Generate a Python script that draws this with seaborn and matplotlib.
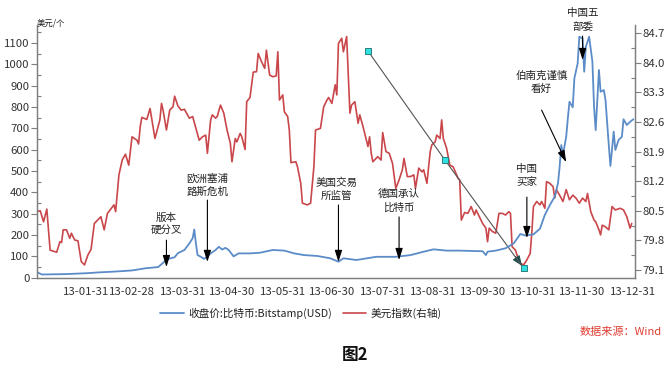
import matplotlib
matplotlib.use("Agg")
import matplotlib.pyplot as plt
import matplotlib.dates as mdates
from matplotlib.ticker import FixedLocator, MultipleLocator
import seaborn as sns
import pandas as pd
import numpy as np

# ---------------- data ----------------
btc_dates = ["01-01", "01-04", "01-19", "01-31", "02-08", "02-18", "02-28", "03-08", "03-16", "03-19",
             "03-21", "03-23", "03-26", "03-28", "04-01", "04-04", "04-06", "04-07", "04-08", "04-09",
             "04-11", "04-13", "04-15", "04-17", "04-20", "04-22", "04-24", "04-26", "04-28", "05-01",
             "05-04", "05-11", "05-17", "05-25", "06-01", "06-07", "06-13", "06-21", "06-29", "07-04",
             "07-07", "07-15", "07-27", "08-08", "08-17", "08-25", "08-31", "09-08", "09-16", "09-30",
             "10-02", "10-03", "10-08", "10-14", "10-19", "10-23", "10-26", "10-31", "11-04", "11-07",
             "11-10", "11-13", "11-15", "11-16", "11-17", "11-18", "11-20", "11-21", "11-22", "11-24",
             "11-25", "11-27", "11-28", "11-30", "12-01", "12-02", "12-04", "12-06", "12-07", "12-08",
             "12-10", "12-11", "12-13", "12-14", "12-16", "12-17", "12-19", "12-20", "12-22", "12-24",
             "12-25", "12-27", "12-29", "12-31"]
btc_close = [26, 15, 17, 21, 25, 29, 34, 44, 50, 70,
             85, 90, 96, 115, 130, 161, 185, 226, 160, 106,
             98, 88, 100, 114, 130, 145, 132, 140, 130, 100,
             114, 114, 117, 130, 127, 114, 106, 102, 91, 75,
             91, 83, 98, 98, 106, 122, 133, 127, 127, 124,
             106, 122, 127, 138, 161, 205, 198, 203, 230, 295,
             340, 380, 443, 520, 622, 575, 661, 747, 825, 799,
             935, 1005, 1130, 1122, 966, 1083, 1130, 1013, 802, 692,
             974, 872, 880, 833, 622, 524, 685, 599, 646, 661,
             743, 716, 731, 743]

dxy_dates = ["01-01", "01-03", "01-05", "01-07", "01-09", "01-13", "01-15", "01-16", "01-17", "01-19",
             "01-21", "01-22", "01-24", "01-26", "01-28", "01-30", "02-01", "02-03", "02-05", "02-09",
             "02-11", "02-13", "02-17", "02-18", "02-20", "02-22", "02-24", "02-26", "02-28", "03-03",
             "03-04", "03-05", "03-06", "03-09", "03-11", "03-14", "03-17", "03-18", "03-19", "03-21",
             "03-23", "03-25", "03-26", "03-28", "03-30", "04-01", "04-04", "04-06", "04-08", "04-10",
             "04-12", "04-14", "04-15", "04-17", "04-18", "04-20", "04-21", "04-23", "04-25", "04-27",
             "04-29", "04-30", "05-02", "05-03", "05-05", "05-06", "05-08", "05-09", "05-11", "05-13",
             "05-15", "05-16", "05-18", "05-20", "05-21", "05-23", "05-25", "05-27", "05-28", "05-29",
             "05-31", "06-01", "06-03", "06-04", "06-05", "06-08", "06-09", "06-11", "06-12", "06-15",
             "06-17", "06-19", "06-20", "06-23", "06-25", "06-27", "06-28", "06-30", "07-02", "07-03",
             "07-04", "07-06", "07-07", "07-09", "07-11", "07-12", "07-14", "07-16", "07-17", "07-19",
             "07-22", "07-23", "07-24", "07-25", "07-28", "07-30", "07-31", "08-02", "08-04", "08-06",
             "08-08", "08-10", "08-12", "08-13", "08-15", "08-17", "08-19", "08-20", "08-22", "08-24",
             "08-25", "08-27", "08-29", "08-30", "09-01", "09-02", "09-04", "09-05", "09-06", "09-08",
             "09-10", "09-12", "09-15", "09-16", "09-17", "09-19", "09-21", "09-23", "09-25", "09-26",
             "09-29", "09-30", "10-02", "10-03", "10-04", "10-06", "10-08", "10-10", "10-12", "10-14",
             "10-16", "10-17", "10-18", "10-20", "10-22", "10-23", "10-25", "10-27", "10-29", "10-30",
             "10-31", "11-02", "11-04", "11-05", "11-07", "11-08", "11-10", "11-12", "11-13", "11-14",
             "11-16", "11-18", "11-20", "11-22", "11-24", "11-26", "11-28", "11-30", "12-02", "12-03",
             "12-05", "12-07", "12-08", "12-10", "12-11", "12-12", "12-14", "12-16", "12-18", "12-20",
             "12-23", "12-25", "12-27", "12-29", "12-30"]
dxy_values = [80.48, 80.50, 80.24, 80.54, 79.57, 79.52, 79.77, 79.75, 80.05, 80.05,
              79.85, 79.97, 79.81, 79.79, 79.30, 79.22, 79.45, 79.59, 80.20, 80.36,
              80.05, 80.44, 80.64, 80.48, 81.35, 81.70, 81.84, 81.58, 82.25, 82.17,
              82.08, 82.49, 82.71, 82.66, 82.92, 82.21, 82.65, 83.04, 82.87, 82.41,
              82.88, 82.96, 83.21, 82.98, 82.88, 82.90, 82.69, 82.73, 82.45, 82.17,
              82.25, 82.29, 81.86, 82.65, 82.77, 82.69, 82.73, 83.00, 82.81, 82.41,
              82.10, 81.66, 82.21, 82.13, 82.33, 82.25, 81.95, 83.08, 83.18, 83.78,
              83.79, 84.22, 84.03, 83.87, 84.30, 83.71, 83.67, 83.69, 84.26, 83.12,
              83.24, 82.84, 82.73, 82.41, 81.64, 81.66, 81.54, 81.15, 80.68, 80.64,
              80.68, 81.54, 82.41, 82.45, 82.96, 83.12, 83.18, 83.04, 83.48, 83.24,
              84.46, 84.58, 84.26, 84.62, 82.81, 83.00, 83.08, 82.57, 82.77, 82.49,
              82.02, 82.25, 81.86, 81.66, 81.78, 81.70, 82.35, 81.90, 81.86, 81.62,
              81.03, 81.23, 81.47, 81.74, 81.31, 81.31, 81.35, 81.03, 81.51, 81.42,
              81.47, 81.15, 81.90, 82.06, 82.13, 82.29, 82.21, 82.65, 82.21, 81.98,
              81.58, 81.54, 81.27, 81.23, 80.28, 80.46, 80.44, 80.60, 80.40, 80.52,
              80.28, 80.20, 80.09, 79.77, 80.09, 80.01, 79.97, 80.44, 80.44, 80.40,
              80.48, 80.44, 79.65, 79.57, 79.34, 79.26, 79.22, 79.34, 79.49, 79.97,
              80.60, 80.72, 80.64, 80.72, 80.56, 81.19, 81.15, 81.07, 80.80, 81.00,
              80.87, 80.72, 81.00, 80.76, 80.87, 80.80, 80.68, 80.80, 80.72, 80.91,
              80.48, 80.28, 80.24, 80.05, 79.93, 80.16, 80.12, 80.05, 80.60, 80.52,
              80.56, 80.52, 80.36, 80.09, 80.20]

trend_dates = ["07-22", "09-07", "10-25"]
trend_values = [84.28, 81.70, 79.14]

# annotations: text, text date, text bottom (left-axis), arrow tail (date, value), arrow tip (date, value)
notes = [
    ("版本\n硬分叉", "03-21", 195, "03-21", 176, "03-21", 50),
    ("欧洲塞浦\n路斯危机", "04-15", 377, "04-15", 364, "04-15", 74),
    ("美国交易\n所监管", "07-03", 359, "07-04", 341, "07-04", 74),
    ("德国承认\n比特币", "08-10", 303, "08-10", 285, "08-10", 83),
    ("中国\n买家", "10-27", 421, "10-27", 378, "10-27", 186),
    ("伯南克谨慎\n看好", "11-05", 861, "11-05", 786, "11-20", 542),
    ("中国五\n部委", "11-30", 1152, "11-30", 1133, "11-30", 1021),
]

legend_labels = ["收盘价:比特币:Bitstamp(USD)", "美元指数(右轴)"]
left_unit = "美元/个"
source_text = "数据来源：Wind"
figure_title = "图2"

# ---------------- styling ----------------
sns.set_theme(style="white")
plt.rcParams['font.family'] = ['Noto Sans CJK SC', 'DejaVu Sans']
plt.rcParams['axes.unicode_minus'] = False

BLUE = "#5b8cc8"
RED = "#c9474b"
SPINE = "#7f7f7f"
TXT = "#333333"

def d(s):
    return pd.Timestamp("2013-" + s)

btc = pd.DataFrame({"date": [d(s) for s in btc_dates], "close": btc_close})
dxy = pd.DataFrame({"date": [d(s) for s in dxy_dates], "value": dxy_values})

fig = plt.figure(figsize=(6.7, 3.8), dpi=100, facecolor="white")
ax = fig.add_axes([37 / 670, 1 - 277.7 / 380, (635 - 37) / 670, (277.7 - 25) / 380])
ax2 = ax.twinx()

sns.lineplot(data=dxy, x="date", y="value", ax=ax2, color=RED, linewidth=1.2, legend=False)
sns.lineplot(data=btc, x="date", y="close", ax=ax, color=BLUE, linewidth=1.3, legend=False)

ax.set_zorder(ax2.get_zorder() + 1)
ax.patch.set_visible(False)

ax.set_xlim(pd.Timestamp("2013-01-01"), pd.Timestamp("2014-01-01"))
ax.set_ylim(0, 1185)
ax2.set_ylim(78.918, 84.894)

# trend line with square markers
tdates = [d(s) for s in trend_dates]
ax2.plot(tdates, trend_values, color="#555555", linewidth=0.8, zorder=5)
ax2.plot(tdates, trend_values, linestyle="none", marker="s", markersize=4.5,
         markerfacecolor="#33e0e0", markeredgecolor="#2a7f7f", markeredgewidth=0.7, zorder=6)
ax2.annotate("", xy=(tdates[2] - pd.Timedelta(days=1), trend_values[2] + 0.06),
             xytext=(tdates[2] - pd.Timedelta(days=5), trend_values[2] + 0.28),
             arrowprops=dict(arrowstyle="-|>,head_length=0.6,head_width=0.25", color="#1f5050",
                             lw=0.8, shrinkA=0, shrinkB=0, mutation_scale=10))

# annotations
for text, tdate, ty, adate, ay, pdate, py in notes:
    ax.annotate("", xy=(d(pdate), py), xytext=(d(adate), ay),
                arrowprops=dict(arrowstyle="-|>,head_length=0.7,head_width=0.22", color="black",
                                lw=0.8, shrinkA=0, shrinkB=0, mutation_scale=10),
                annotation_clip=False)
    ax.text(d(tdate), ty, text, ha="center", va="bottom", fontsize=7.6, color="#222222",
            linespacing=1.45, clip_on=False)

# axes / ticks
for a in (ax, ax2):
    a.spines["top"].set_visible(False)
    for side in ("left", "bottom", "right"):
        a.spines[side].set_color(SPINE)
        a.spines[side].set_linewidth(0.9)

month_ends = pd.date_range("2013-01-31", "2013-12-31", freq="ME")
major = mdates.date2num(month_ends)
edges = np.concatenate([[mdates.date2num(pd.Timestamp("2012-12-31"))], major])
minor = []
for a0, a1 in zip(edges[:-1], edges[1:]):
    minor += [a0 + (a1 - a0) / 3, a0 + 2 * (a1 - a0) / 3]
ax.xaxis.set_major_locator(FixedLocator(major))
ax.xaxis.set_minor_locator(FixedLocator(minor))
ax.xaxis.set_major_formatter(mdates.DateFormatter("%y-%m-%d"))
ax.set_xlabel("")
ax.set_ylabel("")
ax2.set_ylabel("")

ax.yaxis.set_major_locator(MultipleLocator(100))
ax.yaxis.set_minor_locator(MultipleLocator(50))
ax2.yaxis.set_major_locator(FixedLocator([79.1, 79.8, 80.5, 81.2, 81.9, 82.6, 83.3, 84.0, 84.7]))
ax2.yaxis.set_minor_locator(FixedLocator([79.45, 80.15, 80.85, 81.55, 82.25, 82.95, 83.65, 84.35]))
ax2.yaxis.set_major_formatter(matplotlib.ticker.FormatStrFormatter("%.1f"))

ax.tick_params(axis="x", which="major", direction="out", length=4, width=0.8, color=SPINE,
               labelsize=8.2, labelcolor=TXT, pad=3)
ax.tick_params(axis="x", which="minor", direction="out", length=3, width=0.8, color=SPINE)
ax.tick_params(axis="y", which="major", direction="out", length=4, width=0.8, color=SPINE,
               labelsize=8.2, labelcolor=TXT, pad=1.5)
ax.tick_params(axis="y", which="minor", direction="in", length=3, width=0.8, color=SPINE)
ax2.tick_params(axis="y", which="major", direction="out", length=4, width=0.8, color=SPINE,
                labelsize=8.2, labelcolor=TXT, pad=1.5)
ax2.tick_params(axis="y", which="minor", direction="in", length=3, width=0.8, color=SPINE)

# texts
fig.text(37 / 670, 1 - 23 / 380, left_unit, fontsize=6, ha="left", va="center", color="#222222")
handles = [ax.get_lines()[0], ax2.get_lines()[0]]
fig.legend(handles, legend_labels, loc="center", bbox_to_anchor=(301 / 670, 1 - 313 / 380), ncol=2,
           frameon=False, fontsize=7.7, handlelength=2.2, columnspacing=1.0, handletextpad=0.4,
           labelcolor="#222222")
fig.text(662 / 670, 1 - 332 / 380, source_text, fontsize=8, ha="right", va="center",
         color="#e03c32", style="italic")
fig.text(355 / 670, 1 - 355 / 380, figure_title, fontsize=12, ha="center", va="center",
         fontweight="bold", color="#111111")

fig.savefig("out.png", dpi=100, facecolor="white")
